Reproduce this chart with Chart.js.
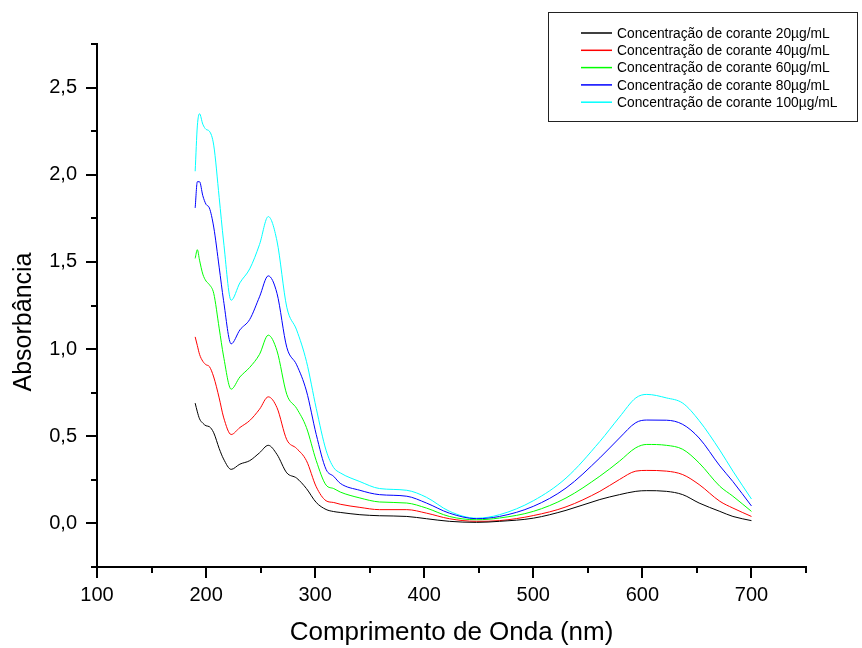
<!DOCTYPE html>
<html lang="pt">
<head>
<meta charset="utf-8">
<title>Absorbância</title>
<script src="https://cdn.jsdelivr.net/npm/chart.js@4"></script>
<style>
    html, body { margin: 0; padding: 0; background: #fff; }
    .wrap { position: relative; width: 862px; height: 648px; }
</style>
</head>
<body>
<div class="wrap"><canvas id="spectrumChart"></canvas></div>
<script>
// comprimento de onda (nm)
const waves = [190, 192, 194, 197, 200, 203, 207, 212, 216, 223, 231, 240, 249, 257, 265, 274, 283, 292, 301, 310,
    317, 323, 341, 359, 384, 402, 423, 448, 469, 500, 530, 561, 579, 594, 604, 622, 637, 652, 671, 683, 700];

const c20 = [0.69, 0.64, 0.60, 0.575, 0.56, 0.555, 0.52, 0.43, 0.37, 0.31, 0.34, 0.36, 0.405, 0.448, 0.396, 0.29, 0.26, 0.20, 0.12, 0.08,
    0.068, 0.063, 0.05, 0.044, 0.04, 0.027, 0.012, 0.006, 0.012, 0.03, 0.075, 0.137, 0.165, 0.184, 0.188, 0.184, 0.165, 0.117, 0.069, 0.04, 0.016];
const c40 = [1.07, 1.02, 0.97, 0.93, 0.91, 0.90, 0.84, 0.72, 0.61, 0.51, 0.55, 0.59, 0.655, 0.726, 0.664, 0.48, 0.43, 0.36, 0.21, 0.13,
    0.12, 0.11, 0.092, 0.079, 0.079, 0.059, 0.027, 0.012, 0.016, 0.045, 0.095, 0.184, 0.252, 0.30, 0.304, 0.30, 0.28, 0.223, 0.127, 0.088, 0.04];
const c60 = [1.52, 1.57, 1.51, 1.43, 1.39, 1.37, 1.32, 1.12, 0.96, 0.77, 0.84, 0.895, 0.97, 1.08, 0.99, 0.74, 0.66, 0.55, 0.36, 0.22,
    0.20, 0.18, 0.146, 0.123, 0.117, 0.088, 0.04, 0.021, 0.031, 0.069, 0.146, 0.271, 0.357, 0.434, 0.453, 0.448, 0.425, 0.347, 0.213, 0.156, 0.069];
const c80 = [1.81, 1.96, 1.96, 1.88, 1.83, 1.81, 1.70, 1.47, 1.28, 1.03, 1.11, 1.17, 1.30, 1.42, 1.32, 1.01, 0.91, 0.76, 0.51, 0.31,
    0.27, 0.23, 0.19, 0.165, 0.156, 0.117, 0.059, 0.027, 0.04, 0.098, 0.203, 0.376, 0.49, 0.578, 0.593, 0.592, 0.568, 0.49, 0.33, 0.24, 0.10];
const c100 = [2.02, 2.28, 2.35, 2.29, 2.26, 2.25, 2.17, 1.87, 1.62, 1.28, 1.38, 1.46, 1.60, 1.76, 1.62, 1.24, 1.11, 0.93, 0.66, 0.42,
    0.32, 0.29, 0.24, 0.20, 0.19, 0.15, 0.07, 0.03, 0.05, 0.13, 0.26, 0.47, 0.61, 0.72, 0.74, 0.72, 0.69, 0.59, 0.42, 0.30, 0.14];

const seriesLabels = [
    'Concentração de corante 20µg/mL',
    'Concentração de corante 40µg/mL',
    'Concentração de corante 60µg/mL',
    'Concentração de corante 80µg/mL',
    'Concentração de corante 100µg/mL'
];
const seriesValues = [c20, c40, c60, c80, c100];
const seriesColors = ['#000000', '#ff0000', '#00ff00', '#0000ff', '#00ffff'];

const xTitle = 'Comprimento de Onda (nm)';
const yTitle = 'Absorbância';

const FONT = '"Liberation Sans", Arial, sans-serif';

document.addEventListener('DOMContentLoaded', () => {
    initChart();
});

// tick marks: major ones longer than minor ones, both pointing outward
const tickMarks = {
    id: 'tickMarks',
    afterDraw(chart) {
        const ctx = chart.ctx;
        const { x, y } = chart.scales;
        ctx.save();
        ctx.strokeStyle = '#000';
        ctx.lineWidth = 2;
        ctx.beginPath();
        x.ticks.forEach(t => {
            const px = Math.round(x.getPixelForValue(t.value));
            const len = t.value % 100 === 0 ? 11 : 6;
            ctx.moveTo(px, x.top);
            ctx.lineTo(px, x.top + len);
        });
        y.ticks.forEach(t => {
            const py = Math.round(y.getPixelForValue(t.value));
            const major = Math.abs(t.value * 2 - Math.round(t.value * 2)) < 1e-6;
            const len = major ? 11 : 6;
            ctx.moveTo(y.right, py);
            ctx.lineTo(y.right - len, py);
        });
        ctx.stroke();
        ctx.restore();
    }
};

// y title and legend box
const decorations = {
    id: 'decorations',
    afterDraw(chart) {
        const ctx = chart.ctx;
        ctx.save();

        ctx.fillStyle = '#000';
        ctx.font = '25px ' + FONT;
        ctx.textAlign = 'center';
        ctx.textBaseline = 'middle';
        ctx.translate(24, 322);
        ctx.rotate(-Math.PI / 2);
        ctx.fillText(yTitle, 0, 0);
        ctx.setTransform(1, 0, 0, 1, 0, 0);

        // legend
        ctx.strokeStyle = '#222';
        ctx.lineWidth = 1;
        ctx.strokeRect(548.5, 12.5, 309, 109);

        ctx.font = '13.8px ' + FONT;
        ctx.textAlign = 'left';
        ctx.textBaseline = 'middle';
        chart.data.datasets.forEach((ds, i) => {
            const rowY = 33 + i * 17.3;
            ctx.strokeStyle = ds.borderColor;
            ctx.lineWidth = 1.5;
            ctx.beginPath();
            ctx.moveTo(581, rowY);
            ctx.lineTo(612, rowY);
            ctx.stroke();
            ctx.fillStyle = '#000';
            ctx.fillText(ds.label, 617, rowY + 1);
        });
        ctx.restore();
    }
};

function initChart() {
    const ctx = document.getElementById('spectrumChart').getContext('2d');

    const datasets = seriesValues.map((vals, i) => ({
        label: seriesLabels[i],
        data: waves.map((w, j) => ({ x: w, y: vals[j] })),
        borderColor: seriesColors[i],
        backgroundColor: seriesColors[i],
        borderWidth: 1,
        pointRadius: 0,
        cubicInterpolationMode: 'monotone',
        fill: false
    }));

    new Chart(ctx, {
        type: 'line',
        data: { datasets },
        options: {
            responsive: true,
            maintainAspectRatio: false,
            animation: false,
            layout: {
                padding: { left: 0, top: 44, right: 56, bottom: 0 }
            },
            plugins: {
                legend: { display: false },
                tooltip: { enabled: false }
            },
            scales: {
                x: {
                    type: 'linear',
                    min: 100,
                    max: 750,
                    afterFit: scale => { scale.height = 81; },
                    grid: { display: true, drawOnChartArea: false, drawTicks: false },
                    border: { display: true, color: '#000', width: 2 },
                    ticks: {
                        stepSize: 50,
                        autoSkip: false,
                        maxRotation: 0,
                        padding: 16,
                        color: '#000',
                        font: { family: FONT, size: 20 },
                        callback: value => (value % 100 === 0 && value <= 700 ? String(value) : '')
                    },
                    title: {
                        display: true,
                        text: xTitle,
                        color: '#000',
                        font: { family: FONT, size: 26 },
                        padding: { top: 0, bottom: 0 }
                    }
                },
                y: {
                    type: 'linear',
                    min: -0.25,
                    max: 2.75,
                    afterFit: scale => { scale.width = 97; },
                    grid: { display: true, drawOnChartArea: false, drawTicks: false },
                    border: { display: true, color: '#000', width: 2 },
                    ticks: {
                        stepSize: 0.25,
                        autoSkip: false,
                        padding: 20,
                        color: '#000',
                        font: { family: FONT, size: 20 },
                        callback: value => {
                            const major = Math.abs(value * 2 - Math.round(value * 2)) < 1e-6;
                            if (!major) return '';
                            return Math.abs(value).toFixed(1).replace('.', ',');
                        }
                    }
                }
            }
        },
        plugins: [tickMarks, decorations]
    });
}
</script>
</body>
</html>
